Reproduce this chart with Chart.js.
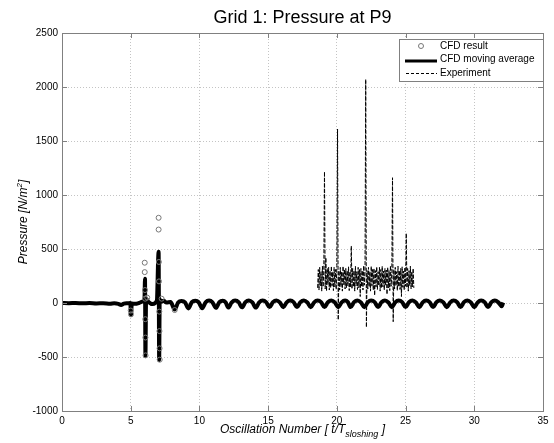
<!DOCTYPE html>
<html>
<head>
<meta charset="utf-8">
<script src="https://cdn.jsdelivr.net/npm/chart.js@4.4.1/dist/chart.umd.min.js"></script>
<style>
    html, body { margin: 0; padding: 0; background: #fff; }
</style>
</head>
<body>
<canvas id="PressureP9" width="554" height="443"></canvas>
<script>
const chartTitle = 'Grid 1: Pressure at P9';
const seriesNames = ['CFD result', 'CFD moving average', 'Experiment'];
const xTicks = [0, 5, 10, 15, 20, 25, 30, 35];
const yTicks = [-1000, -500, 0, 500, 1000, 1500, 2000, 2500];

// CFD result (open circles) - only the ones not hidden under the moving average
const cfdX = [5.0, 5.02,
    6.02, 6.02, 6.04, 6.05, 6.06, 6.07, 6.08, 6.2,
    7.03, 7.03, 7.05, 7.06, 7.08, 7.09, 7.1, 7.11, 7.25,
    8.2];
const cfdY = [-70, -105,
    373, 286, 120, 40, -150, -320, -485, 50,
    789, 680, 380, 200, -80, -260, -420, -525, 40,
    -65];

// CFD moving average (thick line)
const maX = [0, 0.5, 1, 1.5, 2, 2.5, 3, 3.5, 3.8, 4.1, 4.3, 4.5, 4.8, 4.97, 5.02, 5.08, 5.3, 5.6, 5.9, 6.0,
    6.04, 6.07, 6.12, 6.3, 6.6, 6.9, 7.03, 7.07, 7.11, 7.18, 7.4, 7.6, 7.9,
    8.2, 8.45, 8.7, 8.95, 9.2, 9.45, 9.7, 9.95, 10.2, 10.45, 10.7, 10.95, 11.2, 11.45, 11.7, 11.9,
    12.1, 12.35, 12.6, 12.85, 13.1, 13.35, 13.6, 13.85, 14.1, 14.35, 14.6, 14.85, 15.1, 15.35, 15.6, 15.85,
    16.1, 16.35, 16.6, 16.85, 17.1, 17.35, 17.6, 17.85, 18.1, 18.35, 18.6, 18.85, 19.1, 19.35, 19.6, 19.85,
    20.1, 20.35, 20.6, 20.8, 21.0, 21.25, 21.5, 21.75, 22.0, 22.25, 22.5, 22.75, 23.0, 23.25, 23.5, 23.75,
    24.0, 24.25, 24.5, 24.75, 25.0, 25.25, 25.5, 25.75, 26.0, 26.25, 26.5, 26.75, 27.0, 27.25, 27.5, 27.75,
    28.0, 28.25, 28.5, 28.75, 29.0, 29.25, 29.5, 29.75, 30.0, 30.25, 30.5, 30.75, 31.0, 31.25, 31.5, 31.75,
    32.0, 32.1];
const maY = [0, -2, 0, -3, -1, -4, -2, -6, -3, -8, -18, -6, -2, 0, -110, -5, -8, 0, 15, 30,
    224, -488, 40, 10, -10, 20, 475, -528, 35, 10, 20, 5, 10,
    -60, 5, 18, 6, -50, 8, 20, 6, -48, 6, 22, 5, -45, 8, 20, 6,
    -42, 6, 22, 8, -40, 8, 24, 6, -42, 6, 22, 8, -38, 8, 24, 6,
    -40, 6, 22, 8, -38, 8, 24, 6, -40, 6, 22, 8, -38, 8, 24, 6,
    -40, 6, 22, 8, -38, 8, 24, 6, -40, 6, 22, 8, -38, 8, 24, 6,
    -40, 6, 22, 8, -38, 8, 24, 6, -40, 6, 22, 8, -38, 8, 24, 6,
    -40, 6, 22, 8, -38, 8, 24, 6, -40, 6, 22, 8, -38, 8, 24, 6,
    -30, 5];

// Experiment (dashed), sampled every 0.05 oscillations from 18.6
const expStart = 18.6;
const expStep = 0.05;
const expY = [140, 310, 120, 330, 160, 290, 110, 340, 150, 300,
    1216,
    130, 420, 110, 320, 170, 330, 120, 300, 140, 340, 160, 290, 115, 330, 150, 310, 125, 345,
    1611, -157,
    300, 120, 330, 150, 290, 110, 340, 170, 310, 130, 320, 140, 300, 160, 335, 115, 290, 150,
    528,
    130, 320, 150, 300, 110, 340, 160, 290, 125, 330, 140, 310, 60, 320, 150, 300, 120, 345, 165, 290,
    2071, -225,
    300, 130, 330, 150, 290, 110, 340, 160, 310, 120, 320, 70, 300, 150, 335, 125, 290, 160, 330, 110,
    310, 140, 340, 150, 295, 120, 320, 165, 305, 80, 330, 140, 300, 115, 345, 155, 290,
    1160, -173,
    310, 130, 330, 160, 290, 115, 340, 150, 300, 125, 320, 60, 335, 145, 295, 120, 330, 155,
    645,
    140, 320, 110, 300, 160, 340, 130, 290, 150, 320, 140];

const FONT = "'Liberation Sans', Arial, sans-serif";
const AXIS_GRAY = '#808080';

function drawText(ctx, parts, x, y, align) {
    // parts: [text, fontSize, yOffset]
    let total = 0;
    parts.forEach(p => { ctx.font = 'italic ' + p[1] + 'px ' + FONT; total += ctx.measureText(p[0]).width; });
    let cx = align === 'center' ? x - total / 2 : x;
    parts.forEach(p => {
        ctx.font = 'italic ' + p[1] + 'px ' + FONT;
        ctx.fillText(p[0], cx, y + p[2]);
        cx += ctx.measureText(p[0]).width;
    });
}

const framePlugin = {
    id: 'frame',
    afterDraw(chart) {
        const ctx = chart.ctx;
        const a = chart.chartArea;
        const xs = chart.scales.x;
        const ys = chart.scales.y;
        ctx.save();

        // box and inward ticks
        ctx.strokeStyle = AXIS_GRAY;
        ctx.lineWidth = 1;
        ctx.strokeRect(Math.round(a.left) + 0.5, Math.round(a.top) + 0.5,
            Math.round(a.right - a.left), Math.round(a.bottom - a.top));
        ctx.beginPath();
        xTicks.forEach(v => {
            const px = Math.round(xs.getPixelForValue(v)) + 0.5;
            ctx.moveTo(px, a.bottom); ctx.lineTo(px, a.bottom - 5);
            ctx.moveTo(px, a.top); ctx.lineTo(px, a.top + 5);
        });
        yTicks.forEach(v => {
            const py = Math.round(ys.getPixelForValue(v)) + 0.5;
            ctx.moveTo(a.left, py); ctx.lineTo(a.left + 5, py);
            ctx.moveTo(a.right, py); ctx.lineTo(a.right - 5, py);
        });
        ctx.stroke();

        // title
        ctx.fillStyle = '#000';
        ctx.textAlign = 'center';
        ctx.textBaseline = 'alphabetic';
        ctx.font = '18px ' + FONT;
        ctx.fillText(chartTitle, (a.left + a.right) / 2, 23);

        // axis titles
        ctx.textAlign = 'left';
        drawText(ctx, [['Oscillation Number [ t/T', 12, 0], ['sloshing', 9, 4], [' ]', 12, 0]],
            (a.left + a.right) / 2, 433, 'center');
        ctx.save();
        ctx.translate(27, (a.top + a.bottom) / 2);
        ctx.rotate(-Math.PI / 2);
        drawText(ctx, [['Pressure [N/m', 12, 0], ['2', 8, -5], [']', 12, 0]], 0, 0, 'center');
        ctx.restore();

        // legend
        const lx = a.right - 144, ly = a.top + 6, lw = 144, lh = 42;
        ctx.fillStyle = '#fff';
        ctx.fillRect(lx, ly, lw, lh);
        ctx.strokeStyle = AXIS_GRAY;
        ctx.strokeRect(lx + 0.5, ly + 0.5, lw, lh);
        ctx.strokeStyle = '#777';
        ctx.lineWidth = 1;
        ctx.beginPath();
        ctx.arc(lx + 22, ly + 7, 2.5, 0, Math.PI * 2);
        ctx.stroke();
        ctx.strokeStyle = '#000';
        ctx.lineWidth = 3;
        ctx.beginPath();
        ctx.moveTo(lx + 6, ly + 22); ctx.lineTo(lx + 38, ly + 22);
        ctx.stroke();
        ctx.lineWidth = 1;
        ctx.setLineDash([3, 2]);
        ctx.beginPath();
        ctx.moveTo(lx + 7, ly + 34.5); ctx.lineTo(lx + 38, ly + 34.5);
        ctx.stroke();
        ctx.setLineDash([]);
        ctx.fillStyle = '#000';
        ctx.font = '10px ' + FONT;
        ctx.textBaseline = 'middle';
        seriesNames.forEach((name, i) => {
            ctx.fillText(name, lx + 41, ly + 7 + i * 13.5);
        });
        ctx.restore();
    }
};

const pressure_canvas = document.getElementById('PressureP9');

const pressure_chart = new Chart(
    pressure_canvas,
    {
        type: 'scatter',
        data: {
            datasets: [
                {
                    label: seriesNames[0],
                    data: cfdX.map((x, i) => ({x: x, y: cfdY[i]})),
                    pointRadius: 2.5,
                    pointBorderWidth: 1,
                    pointBorderColor: '#777',
                    pointBackgroundColor: 'rgba(0,0,0,0)',
                    showLine: false,
                },
                {
                    label: seriesNames[1],
                    data: maX.map((x, i) => ({x: x, y: maY[i]})),
                    showLine: true,
                    borderColor: '#000',
                    borderWidth: 4,
                    pointRadius: 0,
                    cubicInterpolationMode: 'monotone',
                },
                {
                    label: seriesNames[2],
                    data: expY.map((y, i) => ({x: expStart + i * expStep, y: y})),
                    showLine: true,
                    borderColor: '#000',
                    borderWidth: 1,
                    borderDash: [4, 1.5],
                    pointRadius: 0,
                    tension: 0,
                }
            ]
        },
        options: {
            responsive: false,
            animation: false,
            devicePixelRatio: 1,
            layout: {
                padding: {top: 33, right: 11, left: 0, bottom: 0}
            },
            scales: {
                x: {
                    type: 'linear',
                    min: 0,
                    max: 35,
                    afterBuildTicks: (scale) => { scale.ticks = xTicks.map(v => ({value: v})); },
                    afterFit: (scale) => { scale.height = 32; },
                    ticks: {
                        color: '#000',
                        font: {family: FONT, size: 10},
                        padding: 4,
                        maxRotation: 0,
                        callback: (v) => String(v),
                    },
                    grid: {
                        color: '#c4c4c4',
                        drawTicks: false,
                    },
                    border: {
                        display: false,
                        dash: [1, 2],
                    },
                },
                y: {
                    type: 'linear',
                    min: -1000,
                    max: 2500,
                    afterBuildTicks: (scale) => { scale.ticks = yTicks.map(v => ({value: v})); },
                    afterFit: (scale) => { scale.width = 62; },
                    ticks: {
                        color: '#000',
                        font: {family: FONT, size: 10},
                        padding: 4,
                        callback: (v) => String(v),
                    },
                    grid: {
                        color: '#c4c4c4',
                        drawTicks: false,
                    },
                    border: {
                        display: false,
                        dash: [1, 2],
                    },
                }
            },
            plugins: {
                legend: {display: false},
                tooltip: {enabled: false},
            }
        },
        plugins: [framePlugin]
    }
);
</script>
</body>
</html>
